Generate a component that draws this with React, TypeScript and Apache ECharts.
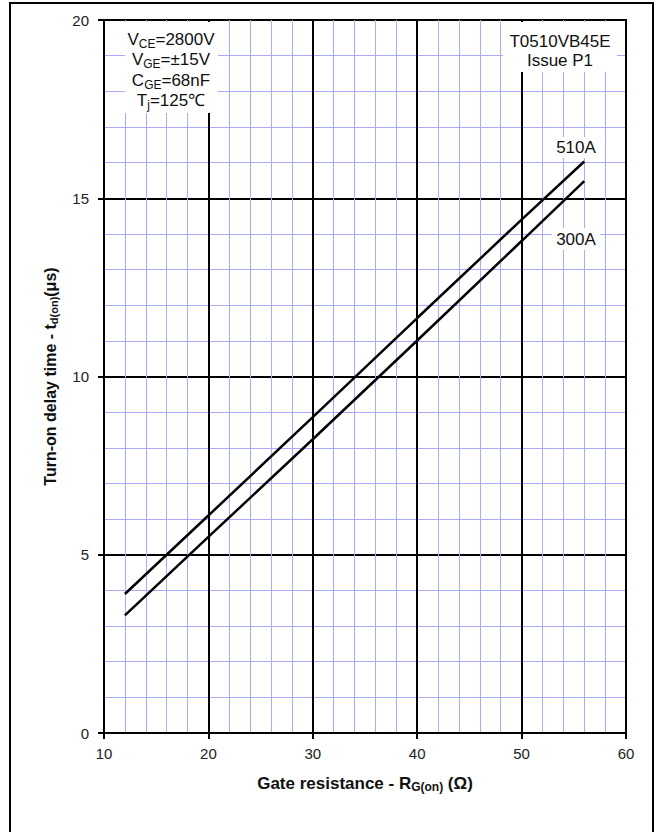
import React, { useEffect, useRef } from "react";
import * as echarts from "echarts";

const rValues = [12, 20, 30, 40, 50, 56];
const t510A = [3.9, 6.1, 8.86, 11.64, 14.4, 16.03];
const t300A = [3.3, 5.5, 8.24, 11.01, 13.8, 15.48];
const seriesNames = ["510A", "300A"];
const xTicks = [10, 20, 30, 40, 50, 60];
const yTicks = [0, 5, 10, 15, 20];

const FONT = "'Liberation Sans', Arial, Helvetica, sans-serif";

export default function App() {
  const ref = useRef<HTMLDivElement>(null);
  useEffect(() => {
    if (!ref.current) return;
    const chart = echarts.init(ref.current, undefined, { renderer: "svg" });
    const subStyle = (size: number, lh: number) => ({
      fontSize: size,
      lineHeight: lh,
      verticalAlign: "bottom" as const,
      fontFamily: FONT,
      color: "#111",
    });
    chart.setOption({
      animation: false,
      backgroundColor: "#fff",
      grid: {
        left: 104,
        top: 20,
        width: 522,
        height: 713,
        show: true,
        borderColor: "#000",
        borderWidth: 2,
        containLabel: false,
      },
      xAxis: {
        type: "value",
        min: xTicks[0],
        max: xTicks[xTicks.length - 1],
        interval: 10,
        name: "Gate resistance - R{s|G(on)} (Ω)",
        nameLocation: "middle",
        nameGap: 41,
        nameTextStyle: {
          fontFamily: FONT,
          fontWeight: "bold",
          fontSize: 17,
          lineHeight: 19,
          color: "#111",
          rich: {
            s: { ...subStyle(12, 10), fontWeight: "bold" },
          },
        },
        axisLine: { show: true, lineStyle: { color: "#000", width: 2 } },
        axisTick: { show: true, length: 6, inside: false, lineStyle: { color: "#000", width: 2 } },
        axisLabel: { fontFamily: FONT, fontSize: 15, color: "#222", margin: 13 },
        splitLine: { show: true, lineStyle: { color: "#000", width: 2 } },
        minorTick: { show: false, splitNumber: 5 },
        minorSplitLine: { show: true, lineStyle: { color: "#aaaaff", width: 1 } },
      },
      yAxis: {
        type: "value",
        min: yTicks[0],
        max: yTicks[yTicks.length - 1],
        interval: 5,
        name: "Turn-on delay time - t{s|d(on)}(μs)",
        nameLocation: "middle",
        nameGap: 45,
        nameTextStyle: {
          fontFamily: FONT,
          fontWeight: "bold",
          fontSize: 16,
          lineHeight: 18,
          color: "#111",
          rich: {
            s: { ...subStyle(11, 10), fontWeight: "bold" },
          },
        },
        axisLine: { show: true, lineStyle: { color: "#000", width: 2 } },
        axisTick: { show: true, length: 6, inside: false, lineStyle: { color: "#000", width: 2 } },
        axisLabel: { fontFamily: FONT, fontSize: 15, color: "#222", margin: 15 },
        splitLine: { show: true, lineStyle: { color: "#000", width: 2 } },
        minorTick: { show: false, splitNumber: 5 },
        minorSplitLine: { show: true, lineStyle: { color: "#aaaaff", width: 1 } },
      },
      series: [
        {
          name: seriesNames[0],
          type: "line",
          data: rValues.map((r, i) => [r, t510A[i]]),
          showSymbol: false,
          symbol: "none",
          smooth: false,
          lineStyle: { color: "#000", width: 2.5 },
          z: 5,
        },
        {
          name: seriesNames[1],
          type: "line",
          data: rValues.map((r, i) => [r, t300A[i]]),
          showSymbol: false,
          symbol: "none",
          smooth: false,
          lineStyle: { color: "#000", width: 2.5 },
          z: 5,
        },
      ],
      graphic: [
        {
          type: "rect",
          z: 100,
          shape: { x: 10, y: 3, width: 643, height: 832 },
          style: { fill: "none", stroke: "#000", lineWidth: 2 },
          silent: true,
        },
        {
          type: "rect",
          z: 100,
          shape: { x: 125, y: 22, width: 93, height: 91 },
          style: { fill: "#fff" },
        },
        {
          type: "text",
          z: 101,
          x: 171,
          y: 29,
          style: {
            text: "V{s|CE}=2800V\nV{s|GE}=±15V\nC{s|GE}=68nF\nT{s|j}=125℃",
            fontFamily: FONT,
            fontSize: 17,
            lineHeight: 20.5,
            fill: "#111",
            align: "center",
            verticalAlign: "top",
            rich: {
              s: { fontSize: 12, lineHeight: 12, verticalAlign: "bottom", fontFamily: FONT, fill: "#111" },
            },
          },
        },
        {
          type: "rect",
          z: 100,
          shape: { x: 503, y: 22, width: 114, height: 50 },
          style: { fill: "#fff" },
        },
        {
          type: "text",
          z: 101,
          x: 560,
          y: 32,
          style: {
            text: "T0510VB45E\nIssue P1",
            fontFamily: FONT,
            fontSize: 17,
            lineHeight: 19,
            fill: "#111",
            align: "center",
            verticalAlign: "top",
          },
        },
        {
          type: "rect",
          z: 100,
          shape: { x: 552, y: 137, width: 48, height: 21 },
          style: { fill: "#fff" },
        },
        {
          type: "text",
          z: 101,
          x: 576,
          y: 147.5,
          style: {
            text: seriesNames[0],
            fontFamily: FONT,
            fontSize: 17,
            fill: "#111",
            align: "center",
            verticalAlign: "middle",
          },
        },
        {
          type: "rect",
          z: 100,
          shape: { x: 552, y: 228, width: 48, height: 22 },
          style: { fill: "#fff" },
        },
        {
          type: "text",
          z: 101,
          x: 576,
          y: 239,
          style: {
            text: seriesNames[1],
            fontFamily: FONT,
            fontSize: 17,
            fill: "#111",
            align: "center",
            verticalAlign: "middle",
          },
        },
      ],
    });
    return () => chart.dispose();
  }, []);
  return (
    <div
      ref={ref}
      style={{ position: "fixed", left: 0, top: 0, width: 660, height: 832, background: "#fff" }}
    />
  );
}
